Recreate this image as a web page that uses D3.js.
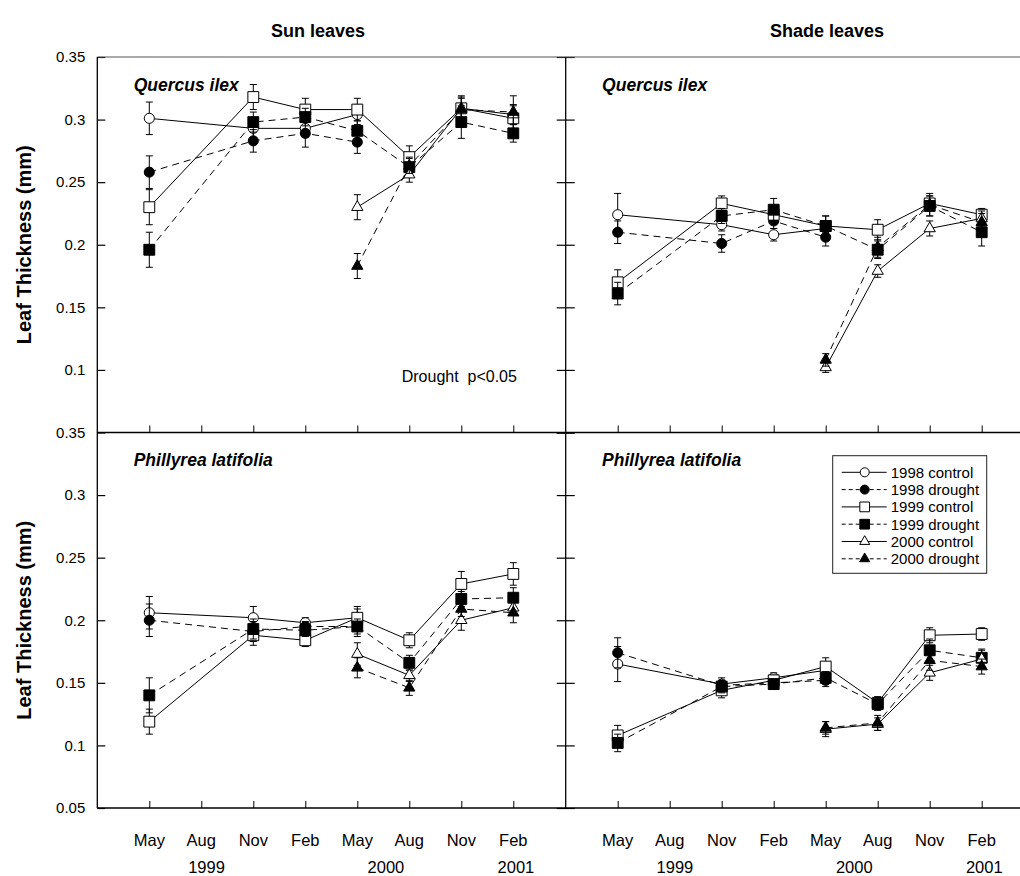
<!DOCTYPE html>
<html>
<head>
<meta charset="utf-8">
<script src="https://cdn.jsdelivr.net/npm/d3@7"></script>
<style>
  body { margin: 0; background: #fff; }
  svg { display: block; font-family: "Liberation Sans", Arial, sans-serif; }
</style>
</head>
<body>
<svg id="area" width="1020" height="876"></svg>
<script>
// sampling dates: May99, Aug99, Nov99, Feb00, May00, Aug00, Nov00, Feb01
const months = ['May', 'Aug', 'Nov', 'Feb', 'May', 'Aug', 'Nov', 'Feb'];
const years = ['1999', '2000', '2001'];
const yTicks = [0.05, 0.1, 0.15, 0.2, 0.25, 0.3, 0.35];
const series = ['1998 control', '1998 drought', '1999 control', '1999 drought', '2000 control', '2000 drought'];
const columns = ['Sun leaves', 'Shade leaves'];
const species = ['Quercus ilex', 'Phillyrea latifolia'];

// leaf thickness (mm), one row per series
const sunQuercusMean = [
  [0.301, null, 0.293, 0.293, 0.304, null, null, null],
  [0.258, null, 0.283, 0.289, 0.282, null, null, null],
  [0.230, null, 0.318, 0.308, 0.308, 0.270, 0.309, 0.301],
  [0.196, null, 0.298, 0.302, 0.291, 0.262, 0.298, 0.289],
  [null, null, null, null, 0.230, 0.256, 0.309, 0.304],
  [null, null, null, null, 0.183, 0.263, 0.308, 0.306]
];
const sunQuercusErr = [
  [0.013, null, 0.008, 0.007, 0.008, null, null, null],
  [0.013, null, 0.009, 0.011, 0.009, null, null, null],
  [0.014, null, 0.010, 0.009, 0.009, 0.009, 0.010, 0.010],
  [0.014, null, 0.008, 0.007, 0.008, 0.008, 0.013, 0.007],
  [null, null, null, null, 0.010, 0.006, 0.008, 0.008],
  [null, null, null, null, 0.010, 0.006, 0.010, 0.013]
];
const shadeQuercusMean = [
  [0.224, null, 0.216, 0.208, 0.213, null, null, null],
  [0.210, null, 0.201, 0.219, 0.206, null, null, null],
  [0.170, null, 0.233, 0.224, 0.215, 0.212, 0.233, 0.224],
  [0.161, null, 0.223, 0.228, 0.215, 0.196, 0.231, 0.210],
  [null, null, null, null, 0.102, 0.179, 0.213, 0.221],
  [null, null, null, null, 0.108, 0.198, 0.232, 0.218]
];
const shadeQuercusErr = [
  [0.017, null, 0.005, 0.005, 0.005, null, null, null],
  [0.009, null, 0.007, 0.006, 0.007, null, null, null],
  [0.010, null, 0.006, 0.005, 0.008, 0.008, 0.006, 0.005],
  [0.009, null, 0.006, 0.009, 0.008, 0.007, 0.008, 0.011],
  [null, null, null, null, 0.004, 0.005, 0.006, 0.006],
  [null, null, null, null, 0.005, 0.008, 0.009, 0.007]
];
const sunPhillyreaMean = [
  [0.206, null, 0.202, 0.198, 0.202, null, null, null],
  [0.200, null, 0.191, 0.195, 0.195, null, null, null],
  [0.119, null, 0.188, 0.184, 0.202, 0.184, 0.229, 0.237],
  [0.140, null, 0.193, 0.192, 0.195, 0.166, 0.217, 0.218],
  [null, null, null, null, 0.173, 0.156, 0.200, 0.210],
  [null, null, null, null, 0.162, 0.146, 0.209, 0.206]
];
const sunPhillyreaErr = [
  [0.013, null, 0.009, 0.004, 0.009, null, null, null],
  [0.013, null, 0.008, 0.004, 0.008, null, null, null],
  [0.010, null, 0.008, 0.005, 0.007, 0.006, 0.010, 0.009],
  [0.014, null, 0.008, 0.005, 0.006, 0.006, 0.006, 0.008],
  [null, null, null, null, 0.009, 0.005, 0.008, 0.006],
  [null, null, null, null, 0.008, 0.006, 0.006, 0.008]
];
const shadePhillyreaMean = [
  [0.165, null, 0.149, 0.154, 0.160, null, null, null],
  [0.174, null, 0.148, 0.150, 0.152, null, null, null],
  [0.108, null, 0.144, 0.152, 0.163, 0.134, 0.188, 0.189],
  [0.102, null, 0.147, 0.149, 0.154, 0.133, 0.176, 0.170],
  [null, null, null, null, 0.113, 0.117, 0.158, 0.169],
  [null, null, null, null, 0.114, 0.118, 0.168, 0.163]
];
const shadePhillyreaErr = [
  [0.014, null, 0.005, 0.004, 0.005, null, null, null],
  [0.012, null, 0.004, 0.004, 0.005, null, null, null],
  [0.008, null, 0.006, 0.004, 0.007, 0.005, 0.006, 0.005],
  [0.007, null, 0.005, 0.004, 0.005, 0.005, 0.009, 0.007],
  [null, null, null, null, 0.006, 0.005, 0.006, 0.007],
  [null, null, null, null, 0.005, 0.006, 0.008, 0.006]
];

const svg = d3.select('#area');
const colX = [97.3, 565.7];
const rowY = [57, 432.5];
const panelW = 468;
const panelH = 375.5;

const x = d3.scaleLinear([-1, 8], [0, panelW]);
const y = d3.scaleLinear([0.05, 0.35], [panelH, 0]);

// marker styles per series
const shapes = [d3.symbolCircle, d3.symbolCircle, d3.symbolSquare, d3.symbolSquare, d3.symbolTriangle, d3.symbolTriangle];
const sizes = [80, 80, 118, 118, 55, 55];
const fills = (i) => (i % 2 === 0 ? '#fff' : '#000');
const dashes = (i) => (i % 2 === 0 ? null : '7,5');

const panels = [
  { col: 0, row: 0, mean: sunQuercusMean, err: sunQuercusErr, name: species[0] },
  { col: 1, row: 0, mean: shadeQuercusMean, err: shadeQuercusErr, name: species[0] },
  { col: 0, row: 1, mean: sunPhillyreaMean, err: sunPhillyreaErr, name: species[1] },
  { col: 1, row: 1, mean: shadePhillyreaMean, err: shadePhillyreaErr, name: species[1] }
];

svg.append('rect').attr('width', 1020).attr('height', 876).attr('fill', '#fff');

panels.forEach((p) => {
  const g = svg.append('g').attr('transform', `translate(${colX[p.col]},${rowY[p.row]})`);

  // y axis
  if (p.col === 0) {
    const ax = g.append('g')
      .call(d3.axisLeft(y)
        .tickValues(p.row === 0 ? yTicks.slice(1) : yTicks)
        .tickSize(-8)
        .tickPadding(12)
        .tickFormat((d) => String(d)));
    ax.select('.domain').remove();
    ax.selectAll('text').style('font-size', '15px').style('font-family', '"Liberation Sans", Arial, sans-serif');
    ax.selectAll('line').attr('stroke-width', 1.2);
  } else {
    const ax = g.append('g')
      .call(d3.axisLeft(y).tickValues(yTicks).tickSize(9).tickFormat(''));
    ax.select('.domain').remove();
    ax.selectAll('.tick line').attr('x1', 9).attr('stroke-width', 1.2);
  }

  // x axis
  const xa = g.append('g')
    .attr('transform', `translate(0,${panelH})`)
    .call(d3.axisBottom(x).tickValues(d3.range(months.length)).tickSize(-7).tickFormat(''));
  xa.select('.domain').remove();

  if (p.row === 1) {
    g.append('g').selectAll('text')
      .data(months)
      .join('text')
      .attr('x', (d, i) => x(i))
      .attr('y', panelH + 38)
      .attr('text-anchor', 'middle')
      .style('font-size', '16.5px')
      .text((d) => d);
    const yearAt = [1.1, 4.55, 7.05];
    g.append('g').selectAll('text')
      .data(years)
      .join('text')
      .attr('x', (d, i) => x(yearAt[i]))
      .attr('y', panelH + 65)
      .attr('text-anchor', 'middle')
      .style('font-size', '16.5px')
      .text((d) => d);
  }

  // species label
  g.append('text')
    .attr('x', x(-0.3))
    .attr('y', y(0.323))
    .style('font-size', '17.5px')
    .style('font-weight', 'bold')
    .style('font-style', 'italic')
    .text(p.name);

  // lines
  const line = d3.line().x((d) => x(d.i)).y((d) => y(d.v));
  p.mean.forEach((row, s) => {
    const pts = row.map((v, i) => ({ i, v, e: p.err[s][i] })).filter((d) => d.v !== null);
    g.append('path')
      .attr('d', line(pts))
      .attr('fill', 'none')
      .attr('stroke', '#000')
      .attr('stroke-width', 1)
      .attr('stroke-dasharray', dashes(s));
  });

  // error bars + markers
  p.mean.forEach((row, s) => {
    const pts = row.map((v, i) => ({ i, v, e: p.err[s][i] })).filter((d) => d.v !== null);
    const eb = g.append('g').attr('stroke', '#000').attr('stroke-width', 1);
    eb.selectAll('line.v')
      .data(pts)
      .join('line')
      .attr('x1', (d) => x(d.i))
      .attr('x2', (d) => x(d.i))
      .attr('y1', (d) => y(d.v - d.e))
      .attr('y2', (d) => y(d.v + d.e));
    [1, -1].forEach((sg) => {
      eb.append('g').selectAll('line')
        .data(pts)
        .join('line')
        .attr('x1', (d) => x(d.i) - 3.5)
        .attr('x2', (d) => x(d.i) + 3.5)
        .attr('y1', (d) => y(d.v + sg * d.e))
        .attr('y2', (d) => y(d.v + sg * d.e));
    });
    g.append('g').selectAll('path')
      .data(pts)
      .join('path')
      .attr('transform', (d) => `translate(${x(d.i)},${y(d.v)})`)
      .attr('d', d3.symbol(shapes[s], sizes[s]))
      .attr('fill', fills(s))
      .attr('stroke', '#000')
      .attr('stroke-width', 1);
  });

  // significance note
  if (p.col === 0 && p.row === 0) {
    g.append('text')
      .attr('x', x(7.07))
      .attr('y', y(0.09))
      .attr('text-anchor', 'end')
      .style('font-size', '16px')
      .style('white-space', 'pre')
      .text('Drought  p<0.05');
  }

  // legend
  if (p.col === 1 && p.row === 1) {
    const lg = g.append('g').attr('transform', 'translate(267,23.2)');
    lg.append('rect')
      .attr('width', 154)
      .attr('height', 117.6)
      .attr('fill', '#fff')
      .attr('stroke', '#222')
      .attr('stroke-width', 1);
    const items = lg.selectAll('g.item')
      .data(series)
      .join('g')
      .attr('transform', (d, i) => `translate(0,${16.6 + i * 17.3})`);
    items.append('line')
      .attr('x1', 9)
      .attr('x2', 54)
      .attr('stroke', '#000')
      .attr('stroke-width', 1)
      .attr('stroke-dasharray', (d, i) => (i % 2 === 0 ? null : '4,3'));
    items.append('path')
      .attr('transform', 'translate(32,0)')
      .attr('d', (d, i) => d3.symbol(shapes[i], sizes[i] * 0.8)())
      .attr('fill', (d, i) => fills(i))
      .attr('stroke', '#000');
    items.append('text')
      .attr('x', 58)
      .attr('dy', '0.36em')
      .style('font-size', '15px')
      .text((d) => d);
  }
});

// frame
const frame = svg.append('g').attr('stroke', '#000').attr('stroke-width', 1.3);
frame.append('line').attr('x1', colX[0]).attr('x2', 1020).attr('y1', rowY[0]).attr('y2', rowY[0])
  .attr('stroke', '#555').attr('stroke-width', 1);
[rowY[1], rowY[1] + panelH].forEach((yy) => {
  frame.append('line').attr('x1', colX[0]).attr('x2', 1020).attr('y1', yy).attr('y2', yy);
});
colX.forEach((xx) => {
  frame.append('line').attr('x1', xx).attr('x2', xx).attr('y1', rowY[0]).attr('y2', rowY[1] + panelH);
});

// column titles
const titleX = [318, 827];
svg.append('g').selectAll('text')
  .data(columns)
  .join('text')
  .attr('x', (d, i) => titleX[i])
  .attr('y', 37)
  .attr('text-anchor', 'middle')
  .style('font-size', '18px')
  .style('font-weight', 'bold')
  .text((d) => d);

// y axis titles
svg.append('g').selectAll('text')
  .data(rowY)
  .join('text')
  .attr('transform', (d) => `translate(31,${d + panelH / 2}) rotate(-90)`)
  .attr('text-anchor', 'middle')
  .style('font-size', '20px')
  .style('font-weight', 'bold')
  .text('Leaf Thickness (mm)');
</script>
</body>
</html>
